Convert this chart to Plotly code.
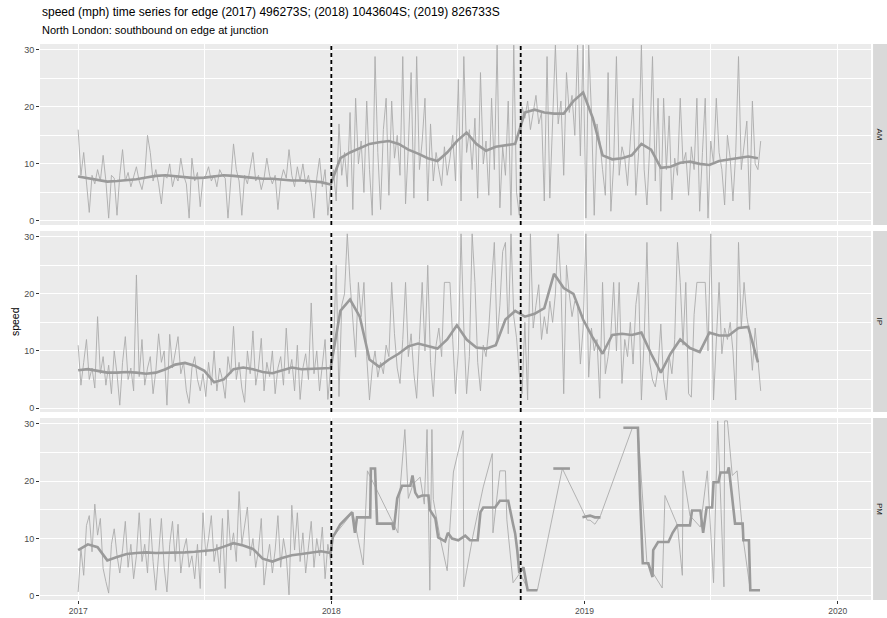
import pandas as pd
import plotly.graph_objects as go

title = "speed (mph) time series for edge (2017) 496273S; (2018) 1043604S; (2019) 826733S"
subtitle = "North London: southbound on edge at junction"
facets = ["AM", "IP", "PM"]
period_breaks = ["2018-01-01", "2018-10-01"]
year_ticks = ["2017-01-01", "2018-01-01", "2019-01-01", "2020-01-01"]
year_labels = ["2017", "2018", "2019", "2020"]
speed_ticks = [0, 10, 20, 30]

raw_start = "2017-01-01"
raw_step = "4D"
smooth_step = "14D"

am_raw = [
    16, 8, 12, 7, 1.5, 8, 6.5, 9, 7, 11.5,
    7, 0.5, 8, 7.5, 1, 8, 12.5, 7, 8.5, 6,
    8, 9.5, 7, 5.5, 8, 15, 12, 7, 9, 6.5,
    3, 8, 7.5, 10, 6, 8, 7, 11, 8, 6.5,
    0.5, 11, 7, 8.5, 2.5, 7.5, 8, 9.5, 7, 8,
    6, 9, 8, 7.5, 0.5, 8, 13.5, 9, 7, 1,
    8, 6.5, 9, 12, 7, 8, 5.5, 7.5, 11, 8,
    6.5, 8, 2, 7, 9, 7.5, 12.5, 8, 6, 9.5,
    7, 10, 6.5, 8, 5, 0.5, 7.5, 11, 6, 9,
    1, 6,
    9, 3.5, 17, 8, 12, 6, 19, 2, 21.5, 10,
    14, 5, 21, 9, 1, 28.8, 12, 2, 16, 21.5,
    4.5, 21, 11, 15, 8, 28.8, 3, 13, 26, 4,
    28.8, 9, 14, 21.5, 3.5, 17, 7, 12, 9, 6.2,
    13, 8, 11, 15, 7, 24.8, 3.5, 28.8, 12, 16,
    9, 18, 4, 26, 10, 14, 4.5, 21.5, 9, 30.8,
    2.3, 13, 8, 21, 1, 30.8, 5, 1,
    20, 18, 21, 16, 19, 22, 17, 19, 3.5, 28.8,
    4, 18, 30.8, 17, 21, 8, 26, 19, 22, 15,
    30.8, 11.4, 30.8,
    0.5, 30.8, 19, 1, 17, 14, 9, 4.5, 26, 1.7,
    10, 28.8, 8, 13, 11, 6.2, 14, 21.5, 4.5, 12,
    30.8, 9, 2.8, 13, 28.8, 7, 21.5, 1.7, 21.5, 9,
    18.4, 3.7, 11, 8, 21.5, 10, 12, 4.5, 13, 9,
    21.5, 1.7, 12, 21.5, 0.5, 14, 10, 21.5, 12, 9,
    2.8, 15, 11, 3.5, 12, 28.8, 9, 13, 17.5, 2,
    21, 10, 9, 14,
]

am_smooth = [
    7.8, 7.5, 7.2, 6.9, 7.0, 7.1, 7.3, 7.6, 7.9, 8.0,
    7.8, 7.6, 7.5, 7.6, 7.8, 8.0, 7.9, 7.7, 7.5, 7.4,
    7.4, 7.2, 7.1, 7.1, 7.0, 6.8, 6.4, 11.0, 12.0, 12.8,
    13.5, 13.8, 14.0, 13.5, 12.5, 11.8, 11.0, 10.5, 12.0, 14.0,
    15.5, 13.5, 12.3, 13.0, 13.2, 13.5, 19.0, 19.5, 19.0, 18.8,
    18.8, 21.0, 22.5, 18.0, 11.5, 10.8, 11.0, 11.5, 13.5, 12.5,
    9.3, 9.5, 10.2, 10.4, 10.0, 9.8, 10.5, 10.8, 11.0, 11.3,
    11.0,
]

ip_raw = [
    11, 4, 8, 12, 5, 7, 3.5, 16, 6, 9,
    4, 7.5, 2.5, 10, 6, 0.5, 8, 12.5, 5, 7,
    3, 23.3, 5.5, 12, 4, 7, 9, 2.5, 6.5, 13,
    8, 10, 0.5, 12.9, 7, 9.5, 12.5, 6, 8, 3,
    0.8, 7, 9, 5, 3, 6, 2, 8, 4, 10,
    3, 7, 5, 1.7, 9, 6, 14.3, 5, 8, 3.5,
    1, 10, 6, 13.5, 4, 7, 12.2, 3, 8, 5.5,
    10, 2.5, 7, 9, 4, 14, 6, 8.5, 3, 11,
    1.5, 7, 9.5, 5, 18.4, 6, 10, 3, 8, 12,
    1.5, 7,
    10, 25, 2, 18, 20, 30.5, 22, 15, 8.9, 22,
    16, 22, 9, 1.4, 7, 10, 5.4, 8, 6, 11,
    9, 22, 13, 7, 4.3, 12, 22, 9, 13, 6,
    1.7, 12, 22, 10, 25, 8, 2, 11, 14, 9,
    22, 22, 22, 12, 2.5, 10, 30.5, 14, 2.5, 9,
    30.5, 22, 8, 3, 11, 9, 14, 22, 29, 12,
    18, 27.4, 29, 13, 30.5, 16, 12.3, 6,
    2.5, 15, 1.4, 30.5, 14, 18, 21.6, 12, 16, 13,
    18.7, 15, 20, 30.5, 22, 2.5, 25, 20, 16, 18.7,
    18.1, 7.7, 14, 30.5, 5.4, 14, 10, 12, 1.7, 22,
    6, 9, 13, 22, 10, 22, 4.3, 12, 9, 15,
    7.7, 18.1, 22, 1.4, 12, 29, 8, 4.9, 3.7, 7,
    14.7, 5, 1.4, 9, 6, 12, 29, 22, 11, 22,
    2.5, 1.9, 16.4, 22, 22, 22, 22, 10, 30.5, 1.4,
    12, 22, 9.5, 14, 12, 15, 10, 1.4, 29, 14,
    22, 16, 13, 6.6, 14, 8, 3,
]

ip_smooth = [
    6.6, 6.8, 6.5, 6.2, 6.2, 6.3, 6.2, 6.0, 6.2, 6.8,
    7.6, 7.9, 7.4, 6.5, 4.5, 5.0, 6.8, 7.1, 6.8, 6.3,
    6.1, 6.6, 7.1, 6.8, 6.9, 7.0, 7.0, 17.0, 19.0, 16.0,
    8.5, 7.2, 8.5, 9.5, 10.8, 11.3, 10.8, 10.4, 12.0, 14.5,
    12.0, 10.6, 10.4, 11.0, 15.5, 17.0, 16.0, 16.5, 17.5, 23.5,
    21.0, 20.0, 15.5, 12.3, 9.5, 12.8, 13.0, 12.8, 13.2, 9.5,
    6.2, 9.5, 12.0, 10.5, 9.8, 13.2, 12.7, 12.7, 14.0, 14.2,
    8.0,
]

pm_raw_2017 = [
    0.7, 8.2, 3.6, 12.3, 14, 7.7, 16, 10.6, 13.5, 4.8,
    2.5, 0.5, 9, 11.7, 7.1, 4, 8, 13, 5, 9,
    3, 7, 14.5, 6, 9, 4, 13.5, 6, 1, 8,
    13.5, 5, 0.7, 9, 13, 6, 12.5, 4, 8, 10,
    5, 7, 3, 9, 1.3, 14.5, 7, 10, 14, 6,
    9, 4, 13.5, 1.3, 15, 8, 11, 6, 18.2, 9,
    12, 15.5, 7, 10, 5, 8, 13.5, 1.9, 6, 9,
    4, 8, 14, 5, 10, 7, 0.2, 15.8, 8, 14.5,
    6, 11, 4, 9, 13, 5, 10, 7, 12, 3,
    9, 6,
]

pm_smooth_2017 = [
    8.0, 9.0, 8.5, 6.2, 6.8, 7.3, 7.5, 7.6, 7.5, 7.5,
    7.6, 7.6, 7.7, 7.8, 8.0, 8.6, 9.2, 8.8, 8.2, 6.5,
    6.0, 6.6, 7.1, 7.3, 7.6, 7.8, 7.5,
]

pm_raw_late_dates = [
    "2018-01-03", "2018-02-01", "2018-02-16", "2018-02-22", "2018-04-07",
    "2018-04-10", "2018-04-17", "2018-04-22", "2018-04-29", "2018-05-09",
    "2018-05-15", "2018-05-19", "2018-05-23", "2018-05-26", "2018-05-28",
    "2018-06-07", "2018-06-17", "2018-06-26", "2018-07-10", "2018-07-11",
    "2018-07-24", "2018-08-08", "2018-08-21", "2018-08-22", "2018-09-01",
    "2018-09-09", "2018-09-11", "2018-09-20", "2018-09-30", "2018-10-12",
    "2018-10-25", "2018-11-30", "2019-01-05", "2019-01-09", "2019-01-16",
    "2019-01-24", "2019-03-11", "2019-03-19", "2019-03-25", "2019-04-01",
    "2019-04-23", "2019-04-27", "2019-05-15", "2019-05-22", "2019-05-23",
    "2019-06-02", "2019-06-17", "2019-06-27", "2019-07-06", "2019-07-12",
    "2019-07-21", "2019-07-22", "2019-07-26", "2019-08-02", "2019-08-09",
    "2019-08-18", "2019-08-28", "2019-09-11",
]
pm_raw_late = [
    10.2, 14.6, 5.4, 21.8, 11,
    18.4, 29, 17, 19.5, 20.7,
    16, 29, 1.0, 29, 16.8,
    10, 4.4, 21.6, 28.8, 1.6,
    10.4, 19, 24.8, 11, 21.8,
    21.8, 13.3, 2.3, 4, 1,
    1, 22.2, 13.2, 13.2, 12.5,
    14, 29.3, 29.3, 17.5, 5.7,
    1.4, 17.5, 12.3, 3.6, 21.8,
    14, 12, 21.8, 2.3, 30.5,
    1.6, 30.5, 30.5, 21, 21.8,
    9.7, 1, 1,
]

pm_smooth_late_dates = [
    "2018-01-03", "2018-01-14", "2018-01-31", "2018-02-04", "2018-02-07",
    "2018-02-26", "2018-02-27", "2018-03-05", "2018-03-08", "2018-03-30",
    "2018-04-01", "2018-04-06", "2018-04-10", "2018-04-13", "2018-04-25",
    "2018-04-28", "2018-05-02", "2018-05-06", "2018-05-12", "2018-05-21",
    "2018-05-23", "2018-05-31", "2018-06-04", "2018-06-14", "2018-06-18",
    "2018-06-24", "2018-07-03", "2018-07-13", "2018-07-20", "2018-07-31",
    "2018-08-04", "2018-08-08", "2018-08-25", "2018-09-01", "2018-09-13",
    "2018-09-16", "2018-09-20", "2018-09-23", "2018-09-26", "2018-09-29",
    "2018-10-05", "2018-10-11", "2018-10-25", "2018-11-05", "2018-11-17",
    "2018-12-11", "2018-12-20", "2018-12-29", "2019-01-09", "2019-01-16",
    "2019-01-24", "2019-02-10", "2019-02-26", "2019-03-19", "2019-03-22",
    "2019-03-26", "2019-04-03", "2019-04-09", "2019-04-10", "2019-04-17",
    "2019-05-02", "2019-05-08", "2019-05-15", "2019-06-02", "2019-06-05",
    "2019-06-17", "2019-06-21", "2019-06-26", "2019-07-04", "2019-07-06",
    "2019-07-13", "2019-07-16", "2019-07-26", "2019-07-28", "2019-08-02",
    "2019-08-06", "2019-08-17", "2019-08-18", "2019-08-26", "2019-08-27",
    "2019-08-28", "2019-09-11",
]
pm_smooth_late = [
    10.2, 12.5, 14.6, 11, 13.7,
    13.7, 22.2, 22.2, 12.6, 12.6,
    11.5, 17, 18.4, 19.2, 19.2,
    21, 18, 17.2, 17.5, 17.5,
    15, 13.5, 10.2, 9.5, 11,
    10, 9.7, 10.5, 9.7, 9.7,
    14.6, 15.4, 15.4, 16.6, 16.6,
    14.6, 12.5, 10.9, 8, 4,
    5, 1, 1, None, 22.2,
    22.2, None, 13.7, 14, 13.7,
    13.7, None, 29.3, 29.3, 17.5,
    5.7, 5.7, 3.3, 8, 9.4,
    9.4, 11, 12.3, 12.3, 14.9,
    14.9, 11, 15.4, 15.4, 19.8,
    19.8, 21.5, 21.5, 22.4, 17,
    12.6, 12.6, 9.7, 9.7, 5.7,
    1.0, 1.0,
]

# ---- assemble series ----
am_raw_x = pd.date_range(raw_start, periods=len(am_raw), freq=raw_step)
ip_raw_x = pd.date_range(raw_start, periods=len(ip_raw), freq=raw_step)
am_sm_x = pd.date_range(raw_start, periods=len(am_smooth), freq=smooth_step)
ip_sm_x = pd.date_range(raw_start, periods=len(ip_smooth), freq=smooth_step)
pm_raw_x = list(pd.date_range(raw_start, periods=len(pm_raw_2017), freq=raw_step)) + list(pd.to_datetime(pm_raw_late_dates))
pm_raw_y = pm_raw_2017 + pm_raw_late
pm_sm_x = list(pd.date_range(raw_start, periods=len(pm_smooth_2017), freq=smooth_step)) + list(pd.to_datetime(pm_smooth_late_dates))
pm_sm_y = pm_smooth_2017 + pm_smooth_late

series = [
    (am_raw_x, am_raw, am_sm_x, am_smooth),
    (ip_raw_x, ip_raw, ip_sm_x, ip_smooth),
    (pm_raw_x, pm_raw_y, pm_sm_x, pm_sm_y),
]

RAW_COL = "#ABABAB"
SM_COL = "#9A9A9A"
FONT = "Liberation Sans, Arial, sans-serif"

fig = go.Figure()
for i, (rx, ry, sx, sy) in enumerate(series):
    ax = "" if i == 0 else str(i + 1)
    fig.add_trace(go.Scatter(x=rx, y=ry, mode="lines", line=dict(color=RAW_COL, width=0.9),
                             xaxis="x" + ax, yaxis="y" + ax, showlegend=False, hoverinfo="skip"))
    fig.add_trace(go.Scatter(x=sx, y=sy, mode="lines", line=dict(color=SM_COL, width=2.6),
                             connectgaps=False,
                             xaxis="x" + ax, yaxis="y" + ax, showlegend=False, hoverinfo="skip"))

domains = [[0.6745, 1.0], [0.3381, 0.6637], [0.0, 0.3273]]
xrange_ = ["2016-11-07", "2020-02-18"]
yrange_ = [-0.7, 31.0]

layout = dict(
    width=887, height=618,
    margin=dict(l=40, r=16, t=44, b=18, autoexpand=False),
    paper_bgcolor="white", plot_bgcolor="#EBEBEB",
    font=dict(family=FONT, size=9, color="#4D4D4D"),
    showlegend=False,
)
for i in range(3):
    ax = "" if i == 0 else str(i + 1)
    layout["xaxis" + ax] = dict(
        domain=[0, 1], anchor="y" + ax, range=xrange_, type="date",
        matches=None if i == 0 else "x",
        tickvals=year_ticks, ticktext=year_labels,
        showticklabels=(i == 2), ticks="outside" if i == 2 else "",
        ticklen=3, tickcolor="#333333", tickwidth=1,
        tickfont=dict(size=8.5, color="#4D4D4D"),
        showgrid=True, gridcolor="white", gridwidth=1.1,
        minor=dict(tickvals=["2016-07-02", "2017-07-02", "2018-07-02", "2019-07-02"],
                   showgrid=True, gridcolor="white", gridwidth=0.5),
        zeroline=False, showline=False, automargin=False,
    )
    layout["yaxis" + ax] = dict(
        domain=domains[i], anchor="x" + ax, range=yrange_,
        tickvals=speed_ticks, ticktext=[str(v) for v in speed_ticks],
        ticks="outside", ticklen=3, tickcolor="#333333", tickwidth=1,
        tickfont=dict(size=9, color="#4D4D4D"),
        showgrid=True, gridcolor="white", gridwidth=1.1,
        minor=dict(tickvals=[5, 15, 25], showgrid=True, gridcolor="white", gridwidth=0.5),
        zeroline=False, showline=False, automargin=False,
    )
fig.update_layout(**layout)

shapes = []
annotations = []
for i in range(3):
    ax = "" if i == 0 else str(i + 1)
    for b in period_breaks:
        shapes.append(dict(type="line", xref="x" + ax, yref="y" + ax + " domain",
                           x0=b, x1=b, y0=0, y1=1,
                           line=dict(color="black", width=1.8, dash="4px,3px")))
    d0, d1 = domains[i]
    shapes.append(dict(type="rect", xref="paper", yref="paper", x0=1.0025, x1=1.03,
                       y0=d0, y1=d1, fillcolor="#D9D9D9", line=dict(width=0), layer="above"))
    annotations.append(dict(text=facets[i], xref="paper", yref="paper",
                            x=1.0108, y=(d0 + d1) / 2, textangle=90, showarrow=False,
                            xanchor="center", yanchor="middle",
                            font=dict(size=8, color="#1A1A1A")))

annotations.append(dict(text=title, xref="paper", yref="paper", x=0, y=1.0576,
                        xanchor="left", yanchor="middle", showarrow=False,
                        font=dict(size=12, color="black")))
annotations.append(dict(text=subtitle, xref="paper", yref="paper", x=0, y=1.0252,
                        xanchor="left", yanchor="middle", showarrow=False,
                        font=dict(size=11, color="black")))
annotations.append(dict(text="speed", xref="paper", yref="paper", x=-0.030, y=0.5,
                        xanchor="center", yanchor="middle", textangle=-90, showarrow=False,
                        font=dict(size=10.5, color="black")))
fig.update_layout(shapes=shapes, annotations=annotations)

fig.write_html("out.html", config={"displayModeBar": False},
               post_script="document.body.style.margin='0';document.body.style.overflow='hidden';")
